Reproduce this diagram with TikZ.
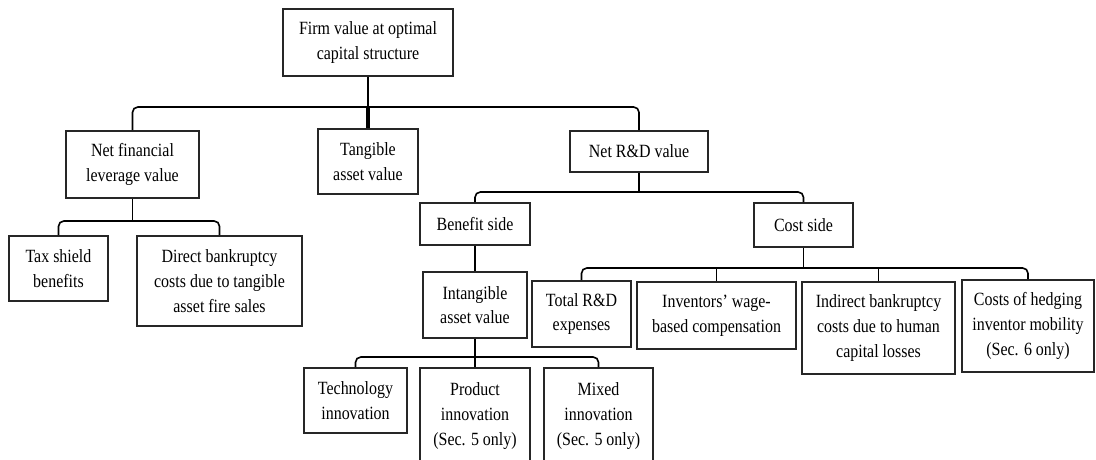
\documentclass[tikz,border=0pt]{standalone}
\usepackage{fontspec}
\setmainfont{Liberation Serif}[FakeStretch=0.855]
\newdimen\pxu \pxu=0.75pt
\begin{document}
\begin{tikzpicture}[x=0.75pt,y=-0.75pt,
  box/.style={draw=black!85,line width=1.2pt,align=center,inner sep=0pt,fill=white,
    font=\fontsize{14}{18.5}\selectfont},
  conn/.style={line width=1.2pt,rounded corners=4pt},
  trunk/.style={line width=2.6pt}]
\useasboundingbox (0,0) rectangle (1096,460);
\clip (0,0) rectangle (1096,460);
% nodes
\node[box,minimum width=170\pxu,minimum height=67\pxu] (top) at (368,42.5) {Firm value at optimal\\capital structure};
\node[box,minimum width=133\pxu,minimum height=67\pxu] (netfin) at (132.5,164.5) {Net financial\\leverage value};
\node[box,minimum width=100\pxu,minimum height=65\pxu] (tangible) at (368,161.5) {Tangible\\asset value};
\node[box,minimum width=138\pxu,minimum height=41\pxu] (netrd) at (639,151.5) {Net R\&D value};
\node[box,minimum width=110\pxu,minimum height=42\pxu] (benefit) at (475,224) {Benefit side};
\node[box,minimum width=99\pxu,minimum height=44\pxu] (cost) at (803.5,225) {Cost side};
\node[box,minimum width=104\pxu,minimum height=66\pxu] (intang) at (475,305) {Intangible\\asset value};
\node[box,minimum width=99\pxu,minimum height=65\pxu] (taxshield) at (58.5,268.5) {Tax shield\\benefits};
\node[box,minimum width=165\pxu,minimum height=90\pxu] (direct) at (219.5,281) {Direct bankruptcy\\costs due to tangible\\asset fire sales};
\node[box,minimum width=99\pxu,minimum height=66\pxu] (totalrd) at (581.5,314) {Total R\&D\\expenses};
\node[box,minimum width=159\pxu,minimum height=67\pxu] (inventors) at (716.5,315.5) {Inventors’ wage-\\based compensation};
\node[box,minimum width=153\pxu,minimum height=92\pxu] (indirect) at (878.5,328) {Indirect bankruptcy\\costs due to human\\capital losses};
\node[box,minimum width=132\pxu,minimum height=92\pxu] (hedging) at (1028,326) {Costs of hedging\\inventor mobility\\(Sec. 6 only)};
\node[box,minimum width=103\pxu,minimum height=65\pxu] (tech) at (355.5,400.5) {Technology\\innovation};
\node[box,minimum width=110\pxu,minimum height=96\pxu] (product) at (475,416) {Product\\innovation\\(Sec. 5 only)};
\node[box,minimum width=109\pxu,minimum height=96\pxu] (mixed) at (598.5,416) {Mixed\\innovation\\(Sec. 5 only)};
% connectors
\coordinate (b0) at (368,107);
\draw[conn] (netfin.north) |- (b0) -| (netrd.north);
\draw[conn] (top.south) -- (tangible.north);
\draw[trunk] (b0) -- (tangible.north);
\coordinate (b1) at (132.5,221);
\draw[conn] (netfin.south) -- (b1);
\draw[conn] (taxshield.north) |- (b1) -| (direct.north);
\coordinate (b2) at (639,192);
\draw[conn] (netrd.south) -- (b2);
\draw[conn] (benefit.north) |- (b2) -| (cost.north);
\draw[conn] (benefit.south) -- (intang.north);
\coordinate (b3) at (803.5,268);
\draw[conn] (cost.south) -- (b3);
\draw[conn] (totalrd.north) |- (b3) -| (hedging.north);
\draw[conn] (inventors.north) -- (inventors.north |- b3);
\draw[conn] (indirect.north) -- (indirect.north |- b3);
\coordinate (b4) at (475,357);
\draw[conn] (intang.south) -- (b4);
\draw[conn] (tech.north) |- (b4) -| (mixed.north);
\draw[conn] (product.north) -- (b4);
\end{tikzpicture}
\end{document}
